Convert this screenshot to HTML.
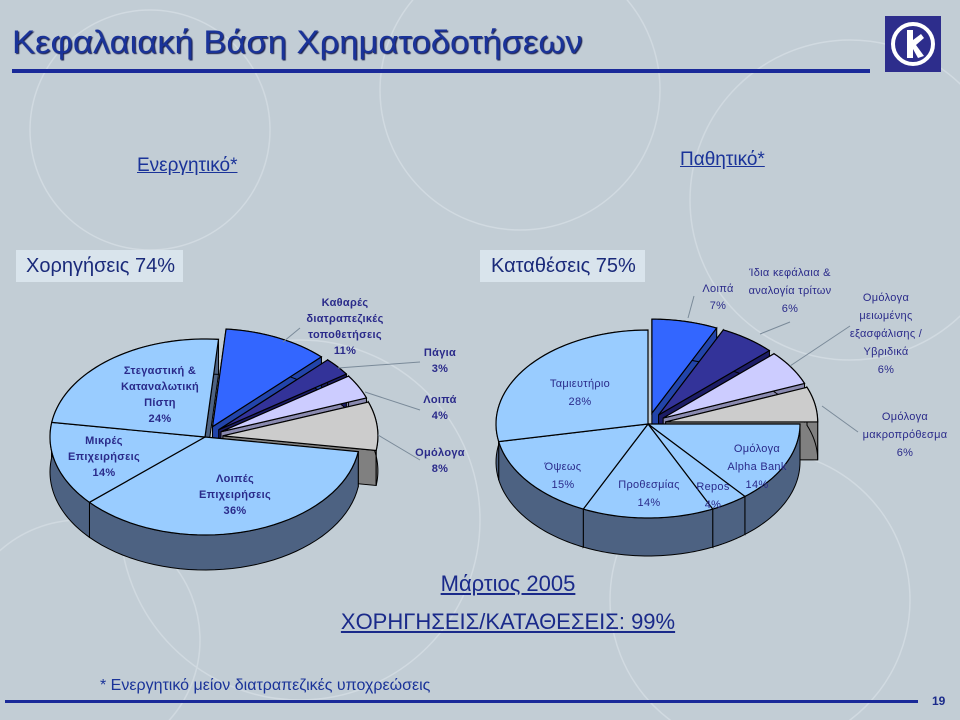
<!DOCTYPE html>
<html><head><meta charset="utf-8">
<style>
html,body{margin:0;padding:0;width:960px;height:720px;overflow:hidden;}
#slide{position:relative;width:960px;height:720px;overflow:hidden;background:#c2cdd5;font-family:"Liberation Sans",sans-serif;color:#1a2a8a;}
.abs{position:absolute;}
.lbl{position:absolute;text-align:center;font-size:11px;line-height:16px;color:#2a2a8a;transform:translateX(-50%);white-space:nowrap;letter-spacing:0.3px;}
.b{font-weight:bold;}
</style></head>
<body>
<div id="slide">
<svg class="abs" style="left:0;top:0" width="960" height="720">
 <g fill="none" stroke="#d4dde3" stroke-width="1.5" opacity="0.8">
  <circle cx="150" cy="130" r="120"/><circle cx="520" cy="90" r="140"/><circle cx="850" cy="200" r="160"/>
  <circle cx="300" cy="520" r="180"/><circle cx="760" cy="600" r="150"/><circle cx="80" cy="640" r="120"/>
 </g>
</svg>
<div class="abs" style="left:12px;top:24px;font-size:32px;color:#1a3399;text-shadow:1px 1px 1px #1a2050;transform-origin:0 0;transform:scaleX(1.08);white-space:nowrap;">Κεφαλαιακή Βάση Χρηματοδοτήσεων</div>
<div class="abs" style="left:12px;top:69px;width:858px;height:4px;background:#1a2a99;"></div>
<svg class="abs" style="left:885px;top:16px" width="56" height="56">
 <rect width="56" height="56" fill="#2d2d8c"/>
 <circle cx="28" cy="28" r="20" fill="none" stroke="#fff" stroke-width="4"/>
 <path d="M22 14 L28 14 L28 24 L36 18 L39 22 L31 29 L39 40 L33 42 L28 33 L28 42 L22 42 Z" fill="#fff"/>
</svg>
<div class="abs" style="left:137px;top:155px;font-size:19px;text-decoration:underline;color:#1a3399;">Ενεργητικό*</div>
<div class="abs" style="left:680px;top:149px;font-size:19px;text-decoration:underline;color:#1a3399;">Παθητικό*</div>

<div class="abs" style="left:16px;top:250px;width:167px;height:32px;background:#d9e4ec;"><div style="padding:5px 0 0 10px;font-size:20px;color:#1a2a7a;">Χορηγήσεις 74%</div></div>
<div class="abs" style="left:480px;top:250px;width:165px;height:32px;background:#d9e4ec;"><div style="padding:5px 0 0 11px;font-size:20px;color:#1a2a7a;">Καταθέσεις 75%</div></div>

<svg id="pies" class="abs" style="left:0;top:0" width="960" height="720"></svg>

<div class="lbl b" style="left:345px;top:295px">Καθαρές<br>διατραπεζικές<br>τοποθετήσεις<br>11%</div>
<div class="lbl b" style="left:440px;top:345px">Πάγια<br>3%</div>
<div class="lbl b" style="left:440px;top:392px">Λοιπά<br>4%</div>
<div class="lbl b" style="left:440px;top:445px">Ομόλογα<br>8%</div>
<div class="lbl b" style="left:160px;top:363px">Στεγαστική &amp;<br>Καταναλωτική<br>Πίστη<br>24%</div>
<div class="lbl b" style="left:104px;top:433px">Μικρές<br>Επιχειρήσεις<br>14%</div>
<div class="lbl b" style="left:235px;top:471px">Λοιπές<br>Επιχειρήσεις<br>36%</div>

<div class="lbl" style="left:718px;top:281px;line-height:17px">Λοιπά<br>7%</div>
<div class="lbl" style="left:790px;top:264px;line-height:18px">Ίδια κεφάλαια &amp;<br>αναλογία τρίτων<br>6%</div>
<div class="lbl" style="left:886px;top:289px;line-height:18px">Ομόλογα<br>μειωμένης<br>εξασφάλισης /<br>Υβριδικά<br>6%</div>
<div class="lbl" style="left:905px;top:408px;line-height:18px">Ομόλογα<br>μακροπρόθεσμα<br>6%</div>
<div class="lbl" style="left:580px;top:375px;line-height:18px">Ταμιευτήριο<br>28%</div>
<div class="lbl" style="left:563px;top:458px;line-height:18px">Όψεως<br>15%</div>
<div class="lbl" style="left:649px;top:476px;line-height:18px">Προθεσμίας<br>14%</div>
<div class="lbl" style="left:713px;top:478px;line-height:18px">Repos<br>4%</div>
<div class="lbl" style="left:757px;top:440px;line-height:18px">Ομόλογα<br>Alpha Bank<br>14%</div>

<div class="abs" style="left:208px;width:600px;top:571px;text-align:center;font-size:22px;text-decoration:underline;color:#1a2a8a;">Μάρτιος 2005</div>
<div class="abs" style="left:208px;width:600px;top:609px;text-align:center;font-size:22px;text-decoration:underline;color:#1a2a8a;">ΧΟΡΗΓΗΣΕΙΣ/ΚΑΤΑΘΕΣΕΙΣ: 99%</div>
<div class="abs" style="left:100px;top:677px;font-size:16px;color:#1a3399;">* Ενεργητικό μείον διατραπεζικές υποχρεώσεις</div>
<div class="abs" style="left:5px;top:700px;width:913px;height:3px;background:#1a2a99;"></div>
<div class="abs" style="left:932px;top:694px;font-size:12px;font-weight:bold;color:#1a2a8a;">19</div>
</div>
<script>
const leftCategories=["Καθαρές διατραπεζικές τοποθετήσεις","Πάγια","Λοιπά","Ομόλογα","Λοιπές Επιχειρήσεις","Μικρές Επιχειρήσεις","Στεγαστική & Καταναλωτική Πίστη"];
const leftValues=[11,3,4,8,36,14,24];
const leftExploded=[1,1,1,1,0,0,0];
const rightCategories=["Λοιπά","Ίδια κεφάλαια","Υβριδικά","Μακροπρόθεσμα","Ομόλογα Alpha Bank","Repos","Προθεσμίας","Όψεως","Ταμιευτήριο"];
const rightValues=[7,6,6,6,14,4,14,15,28];
const rightExploded=[1,1,1,1,0,0,0,0,0];
const NS="http://www.w3.org/2000/svg";
const svg=document.getElementById('pies');
const topCol=["#3366ff","#333399","#ccccff","#cccccc","#99ccff","#99ccff","#99ccff","#99ccff","#99ccff"];
const sideCol=["#2244aa","#1c1c66","#8a8ab0","#808080","#4d6282","#4d6282","#4d6282","#4d6282","#4d6282"];
function mk(tag,attrs,name){const e=document.createElementNS(NS,tag);for(const k in attrs)e.setAttribute(k,attrs[k]);
 
 
 svg.appendChild(e);return e;}
function drawPie(id,vals,expl,cx,cy,rx,ry,depth,startDeg,off){
 const total=vals.reduce((a,b)=>a+b,0);
 const P=(a,ox,oy,dz)=>[ox+rx*Math.sin(a),oy-ry*Math.cos(a)+dz];
 let acc=0;const sl=[];
 vals.forEach((v,i)=>{const a0=(startDeg+acc/total*360)*Math.PI/180;acc+=v;const a1=(startDeg+acc/total*360)*Math.PI/180;
  const m=(a0+a1)/2;const ox=cx+(expl[i]?off*Math.sin(m):0);const oy=cy-(expl[i]?off*Math.cos(m)*ry/rx:0);
  sl.push({a0,a1,ox,oy,i});});
 const arc=(s,dz,rev)=>{const pts=[];const n=40;for(let k=0;k<=n;k++){const a=s.a0+(s.a1-s.a0)*k/n;pts.push(P(a,s.ox,s.oy,dz));}if(rev)pts.reverse();return pts;};
 sl.forEach(s=>{
  const c=sideCol[s.i];
  const b=arc(s,depth,false);
  let d="M"+s.ox+","+(s.oy+depth)+" L"+b.map(p=>p.join(",")).join(" L")+" Z";
  mk('path',{d,fill:c,stroke:"none"},id+'-slice-bottom-'+s.i);
  ['a0','a1'].forEach(k=>{const e=P(s[k],s.ox,s.oy,0);
   d=`M${s.ox},${s.oy} L${e[0]},${e[1]} L${e[0]},${e[1]+depth} L${s.ox},${s.oy+depth} Z`;
   mk('path',{d,fill:c,stroke:"#000","stroke-width":1},id+'-slice-wall-'+s.i);});
 });
 sl.forEach(s=>{
  const c=sideCol[s.i];
  const t=arc(s,0,false),bb=arc(s,depth,true);
  const d="M"+t.map(p=>p.join(",")).join(" L")+" L"+bb.map(p=>p.join(",")).join(" L")+" Z";
  mk('path',{d,fill:c,stroke:"#000","stroke-width":1},id+'-slice-side-'+s.i);
 });
 sl.forEach(s=>{
  const t=arc(s,0,false);
  const d="M"+s.ox+","+s.oy+" L"+t.map(p=>p.join(",")).join(" L")+" Z";
  mk('path',{d,fill:topCol[s.i],stroke:"#000","stroke-width":1.2},id+'-slice-'+s.i);
 });
}
drawPie('loans',leftValues,leftExploded,205,437,155,98,35,5,18);
drawPie('deposits',rightValues,rightExploded,648,424,152,94,38,0,18);
const leaders=[[300,328,283,342],[338,368,420,362],[365,392,420,410],[378,435,420,460],[688,318,694,296],[760,334,790,322],[790,366,850,326],[822,406,858,432]];
leaders.forEach((l,i)=>mk('line',{x1:l[0],y1:l[1],x2:l[2],y2:l[3],stroke:"#7a8a99","stroke-width":1},'leader-line-'+i));
</script>
</body></html>
